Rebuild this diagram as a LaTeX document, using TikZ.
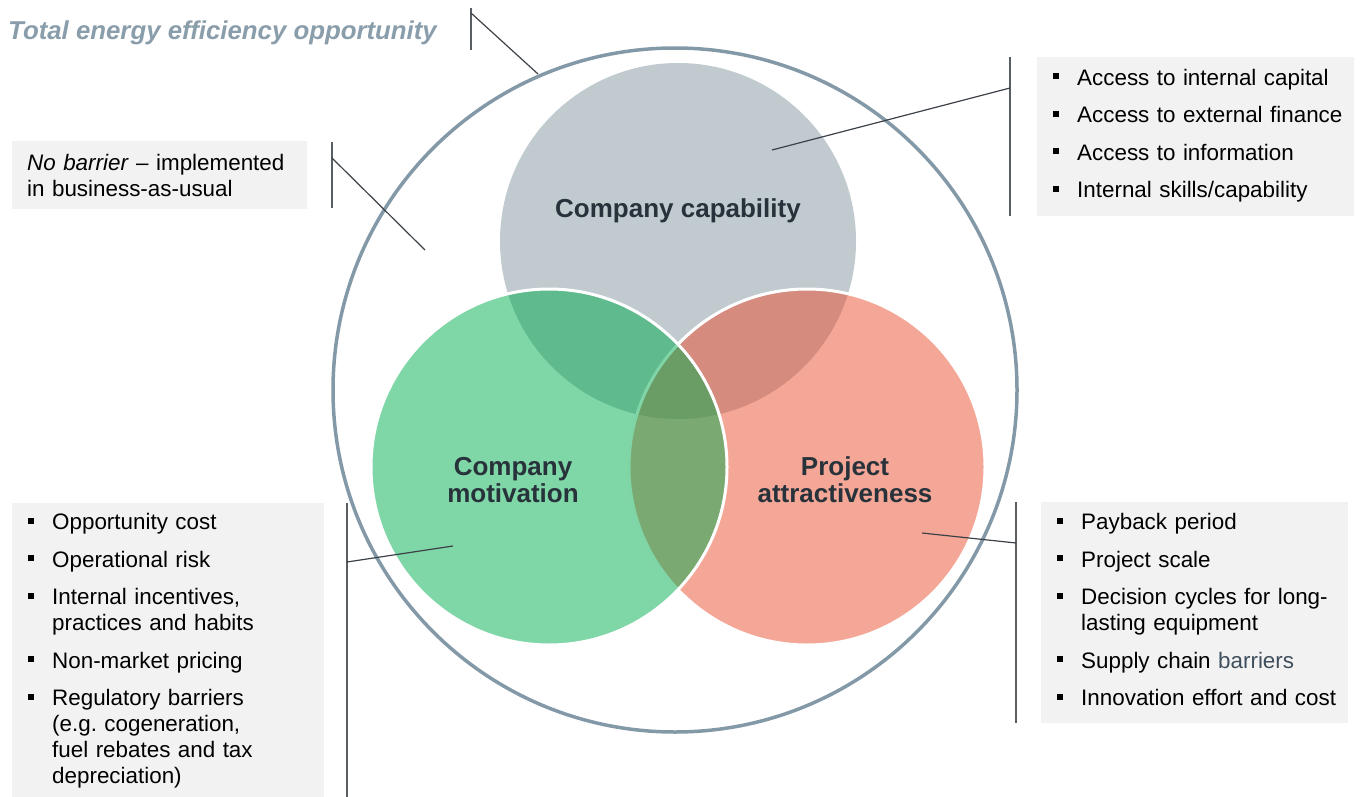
\documentclass[tikz,border=0pt]{standalone}
\usepackage{fontspec}
\setmainfont{Liberation Sans}
\usetikzlibrary{positioning}

\definecolor{capgrey}{HTML}{C0CACF}
\definecolor{motgreen}{HTML}{00AD4D}
\definecolor{attred}{HTML}{EB4F2F}
\definecolor{ringblue}{HTML}{8499A8}
\definecolor{titleblue}{HTML}{8A9DAB}
\definecolor{labeldark}{HTML}{28323B}
\definecolor{panelgrey}{HTML}{F2F2F2}
\definecolor{leadergrey}{HTML}{3C4248}
\definecolor{slatetext}{HTML}{3F4E5C}

% one bullet point with hanging indent, a gap before all but the first
\newif\iffirstbullet
\newcommand{\bitem}[1]{\par
  \iffirstbullet\firstbulletfalse\else\vspace{11.5pt}\fi
  \hangindent=32pt\hangafter=1\noindent
  \hspace*{8pt}\makebox[24pt][l]{\rule[6pt]{6pt}{6pt}}#1\par}

\begin{document}
\begin{tikzpicture}[x=1pt,y=-1pt,
    ring/.style={circle, draw=ringblue, line width=3.5pt, minimum size=684pt, inner sep=0pt},
    venn/.style={circle, draw=white, line width=3pt, minimum size=356pt, inner sep=0pt},
    venntext/.style={font=\fontsize{26}{27}\selectfont\bfseries, text=labeldark, align=center},
    panel/.style={fill=panelgrey, anchor=north west, inner sep=0pt},
    bullets/.style={inner xsep=8pt, inner ysep=0pt, font=\fontsize{22.4}{26}\selectfont,
      execute at begin node={\raggedright\firstbullettrue}},
    leader/.style={draw=leadergrey, line width=1.2pt},
    bar/.style={draw=leadergrey!85, line width=1.4pt}
  ]
  \useasboundingbox (0,0) rectangle (1362,797);

  % outer ring and the three sets
  \node[ring] (total) at (675,390) {};
  \node[venn, draw=none, fill=capgrey] (capability) at (678,241) {};
  \node[venn, fill=attred, fill opacity=0.5, draw opacity=1] (attract) at (807,467) {};
  \node[venn, fill=motgreen, fill opacity=0.5, draw opacity=1] (motive) at (549,467) {};

  \node[venntext] (caplabel) at (678,211) {Company capability};
  \node[venntext] (motlabel) at (513,480) {Company\\motivation};
  \node[venntext] (attlabel) at (845,480) {Project\\attractiveness};

  % title
  \node[anchor=west, inner sep=0pt, text=titleblue,
    font=\fontsize{25.8}{28}\selectfont\bfseries\itshape] (title) at (8,33)
    {Total energy efficiency opportunity};

  % text panels
  \node[panel, anchor=north west, fill=panelgrey, text width=265pt, inner xsep=15pt,
    minimum height=68pt, align=left, font=\fontsize{22.4}{26}\selectfont] (nobarrier) at (12,141)
    {\textit{No barrier} -- implemented\\in business-as-usual};

  \node[panel, minimum width=317pt, minimum height=159pt] (capbox) at (1037,57) {};
  \node[bullets, text width=301pt, below right=2pt and 0pt of capbox.north west] (caplist)
    {\bitem{Access to internal capital}
     \bitem{Access to external finance}
     \bitem{Access to information}
     \bitem{Internal skills/capability}};

  \node[panel, minimum width=312pt, minimum height=294pt] (motbox) at (12,503) {};
  \node[bullets, text width=296pt, below right=0.5pt and 0pt of motbox.north west] (motlist)
    {\bitem{Opportunity cost}
     \bitem{Operational risk}
     \bitem{Internal incentives,\newline practices and habits}
     \bitem{Non-market pricing}
     \bitem{Regulatory barriers\newline (e.g.\ cogeneration,\newline fuel rebates and tax\newline depreciation)}};

  \node[panel, minimum width=307pt, minimum height=221pt] (attbox) at (1041,502) {};
  \node[bullets, text width=291pt, below right=1.5pt and 0pt of attbox.north west] (attlist)
    {\bitem{Payback period}
     \bitem{Project scale}
     \bitem{Decision cycles for long-\newline lasting equipment}
     \bitem{Supply chain \textcolor{slatetext}{barriers}}
     \bitem{Innovation effort and cost}};

  % leader lines
  \coordinate (titlebar) at (471,13);
  \coordinate (ringtip) at (538,74);
  \coordinate (nobar) at (332,158);
  \coordinate (notip) at (425,250);
  \coordinate (capbar) at (1010,88);
  \coordinate (captip) at (772,150);
  \coordinate (motbar) at (347,562);
  \coordinate (mottip) at (453,546);
  \coordinate (attbar) at (1016,543);
  \coordinate (atttip) at (922,533);

  \draw[bar] (471,8) -- (471,50);
  \draw[bar] (332,142) -- (332,208);
  \draw[bar] (1010,57) -- (1010,216);
  \draw[bar] (347,503) -- (347,797);
  \draw[bar] (1016,502) -- (1016,723);

  \draw[leader] (titlebar) -- (ringtip);
  \draw[leader] (nobar) -- (notip);
  \draw[leader] (capbar) -- (captip);
  \draw[leader] (motbar) -- (mottip);
  \draw[leader] (attbar) -- (atttip);
\end{tikzpicture}
\end{document}
